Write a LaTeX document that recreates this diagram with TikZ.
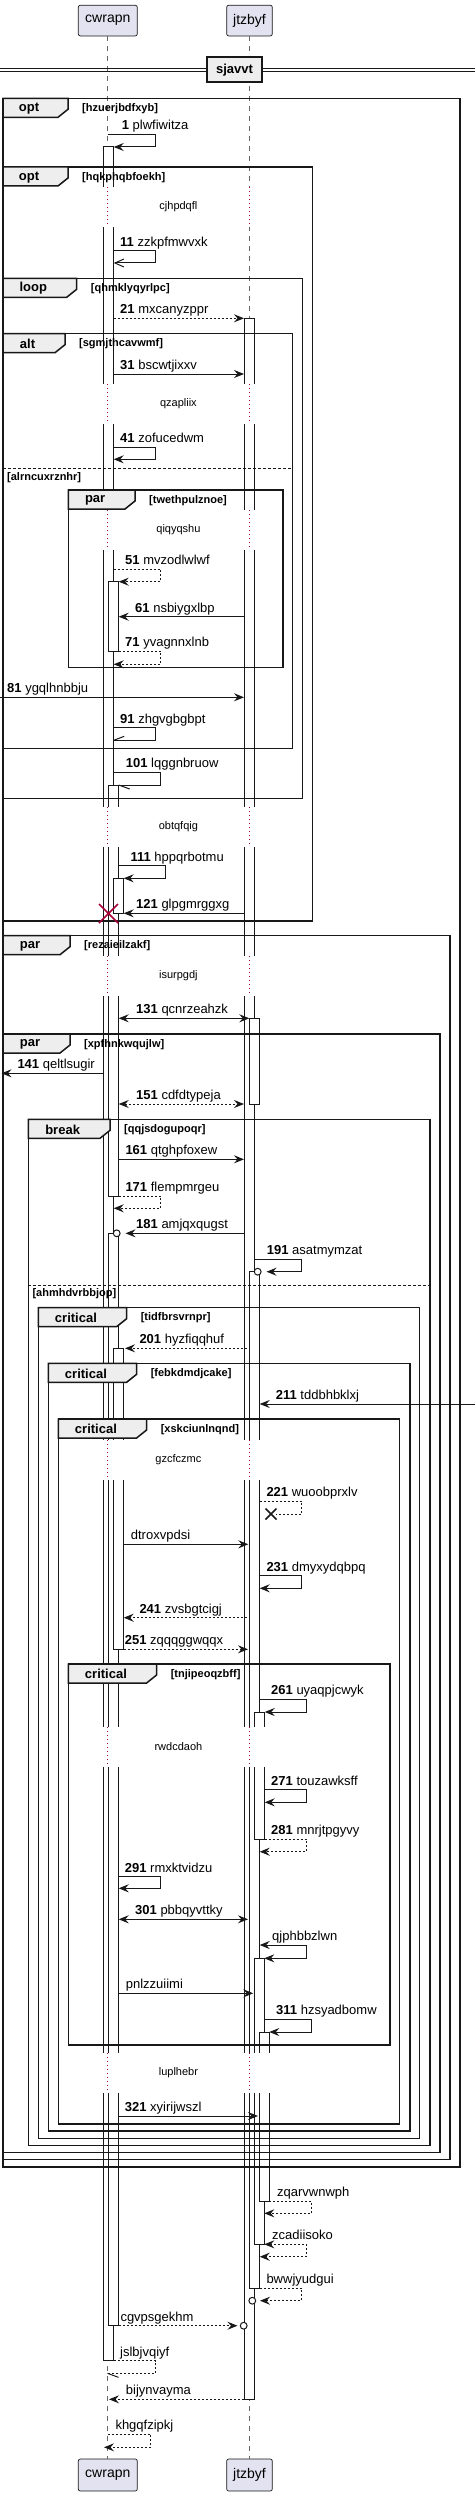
\documentclass[tikz,border=0pt]{standalone}
\usepackage{fontspec}
\setmainfont{Liberation Sans}
\usetikzlibrary{arrows.meta}
\definecolor{tabgray}{HTML}{EEEEEE}
\definecolor{partfill}{HTML}{E2E2F0}
\definecolor{crim}{HTML}{A80036}
\definecolor{lifegray}{HTML}{666666}
\definecolor{ink}{HTML}{181818}
\tikzset{
  lbl/.style={anchor=base west, inner sep=0pt, font=\fontsize{13}{15}\selectfont},
  arrf/.style={-{Stealth[length=10pt,width=8pt,inset=3.5pt]}},
  arrb/.style={{Stealth[length=10pt,width=8pt,inset=3.5pt]}-{Stealth[length=10pt,width=8pt,inset=3.5pt]}},
  arro/.style={-{Straight Barb[length=9pt,width=8pt]}},
  msgl/.style={line width=1pt, ink},
  dsh/.style={dash pattern=on 2pt off 2pt},
  actst/.style={draw=ink, fill=white, line width=1pt},
  lifeline/.style={lifegray, line width=1pt, dash pattern=on 5pt off 5pt},
  dlyline/.style={crim, line width=1pt, dash pattern=on 1pt off 3pt},
  dlytxt/.style={inner sep=0pt, font=\fontsize{11}{13}\selectfont},
  frl/.style={line width=1.5pt, ink},
  kindl/.style={inner sep=0pt, font=\bfseries\fontsize{13}{15}\selectfont},
  guardl/.style={anchor=west, inner sep=0pt, font=\bfseries\fontsize{11}{13}\selectfont},
  part/.style={draw=ink, fill=partfill, line width=0.7pt, rounded corners=2pt, inner sep=0pt, font=\fontsize{14}{16}\selectfont},
  sepbox/.style={draw=ink, fill=tabgray, line width=2pt, inner sep=0pt, minimum width=55pt, minimum height=25pt, font=\bfseries\fontsize{13}{15}\selectfont},
  circ/.style={draw=ink, fill=white, line width=1pt},
}
\newcommand{\smsg}[7]{%
  \coordinate (#1-a) at (#2,#4);
  \coordinate (#1-b) at (#3,#4);
  \draw[#5] (#1-a) -- (#1-b);
  \node[lbl] (#1-l) at (#6,#4-4.5) {#7};
}
\newcommand{\selfmsg}[9]{%
  \coordinate (#1-a) at (#2,#3);
  \coordinate (#1-b) at (#4,#3);
  \coordinate (#1-c) at (#4,#5);
  \coordinate (#1-d) at (#6,#5);
  \draw[#7] (#1-a) -- (#1-b) -- (#1-c) -- (#1-d);
  \node[lbl] (#1-l) at (#8,#3-4.5) {#9};
}
\newcommand{\frm}[8]{%
  \draw[frl] (#2,#3) rectangle (#4,#5);
  \draw[frl,fill=tabgray] (#2,#3) -- ++(#6,0) -- ++(0,11) -- ++(-10,8) -- (#2,#3+19) -- cycle;
  \node[kindl] (#1-k) at ({#2+(#6-13)/2},#3+10.3) {#7};
  \node[guardl] (#1-g) at (#2+#6+14,#3+10.3) {#8};
}
\newcommand{\elsesep}[5]{%
  \draw[ink, line width=1pt, dash pattern=on 3pt off 2pt] (#2,#4) -- (#3,#4);
  \node[guardl] (#1) at (#2+4,#4+9) {#5};
}
\newcommand{\dly}[3]{%
  \fill[white] (99,#2-20) rectangle (276,#2+20);
  \draw[dlyline] (107.5,#2-20) -- (107.5,#2+20);
  \draw[dlyline] (249.3,#2-20) -- (249.3,#2+20);
  \node[dlytxt] (#1) at (178.4,#2) {#3};
}
\begin{document}
\begin{tikzpicture}[x=1pt,y=-1pt]
\useasboundingbox (0,0) rectangle (475,2496);
% participants
\node[part, minimum width=59pt, minimum height=30.7pt] (pc) at (107.8,20.6) {cwrapn};
\node[part, minimum width=45.6pt, minimum height=30.7pt] (pj) at (249.5,20.6) {jtzbyf};
\node[part, minimum width=59pt, minimum height=32pt] (pcb) at (107.8,2475) {cwrapn};
\node[part, minimum width=45.6pt, minimum height=32pt] (pjb) at (249.5,2475) {jtzbyf};
% lifelines
\coordinate (lc1) at (107.5,36.2);
\coordinate (lc2) at (107.5,2459);
\coordinate (lj1) at (249.3,36.2);
\coordinate (lj2) at (249.3,2459);
\draw[lifeline] (lc1) -- (lc2);
\draw[lifeline] (lj1) -- (lj2);
% activations
\draw[actst] (103,147) rectangle (113.7,2360.7);
\draw[actst] (108.3,581.7) rectangle (118.7,651.7);
\draw[actst] (108.3,785) rectangle (118.7,1196);
\draw[actst] (113.3,878.3) rectangle (123.7,913.3);
\draw[actst] (108.3,1233.3) rectangle (118.7,2325.7);
\draw[actst] (113.3,1348.3) rectangle (123.7,1649.3);
\draw[actst] (244.3,318.3) rectangle (254.7,2399.3);
\draw[actst] (249.3,1018.3) rectangle (259.3,1104);
\draw[actst] (249.7,1271.7) rectangle (259.7,2288.3);
\draw[actst] (254.7,1712) rectangle (264.7,1839);
\draw[actst] (254.3,1958.3) rectangle (264.3,2244.3);
\draw[actst] (259.3,2032) rectangle (269.3,2201);
% delays
\dly{d1}{207}{cjhpdqfl}
\dly{d2}{404}{qzapliix}
\dly{d3}{530}{qiqyqshu}
\dly{d4}{827}{obtqfqig}
\dly{d5}{976}{isurpgdj}
\dly{d6}{1460}{gzcfczmc}
\dly{d7}{1747}{rwdcdaoh}
\dly{d8}{2073}{luplhebr}
% separator
\draw[ink, line width=1pt] (0,68.3) -- (475,68.3);
\draw[ink, line width=1pt] (0,71.7) -- (475,71.7);
\node[sepbox] (sep) at (234.5,69.8) {sjavvt};
% frames
\frm{f1}{3}{98.3}{460}{2167}{65}{opt}{[hzuerjbdfxyb]}
\frm{f2}{3}{167}{312.3}{921}{65}{opt}{[hqkphqbfoekh]}
\frm{f3}{3}{278.3}{302.3}{798.3}{73.7}{loop}{[qhmklyqyrlpc]}
\frm{f4}{3}{333.7}{292.7}{748.3}{62}{alt}{[sgmjthcavwmf]}
\elsesep{e1}{3}{292.7}{468.3}{[alrncuxrznhr]}
\frm{f5}{68.3}{490}{283}{667.3}{66.7}{par}{[twethpulznoe]}
\frm{f6}{3}{935.7}{450}{2159.3}{67}{par}{[rezaieilzakf]}
\frm{f7}{3}{1034}{440}{2152.3}{67}{par}{[xpfhnkwqujlw]}
\frm{f8}{28.3}{1119.3}{430}{2145.3}{81.7}{break}{[qqjsdogupoqr]}
\elsesep{e2}{28.3}{430}{1285}{[ahmhdvrbbjop]}
\frm{f9}{38.3}{1307.7}{419.3}{2138.3}{88.3}{critical}{[tidfbrsvrnpr]}
\frm{f10}{48.3}{1363.3}{410}{2131}{88.3}{critical}{[febkdmdjcake]}
\frm{f11}{58.3}{1419}{399.3}{2124}{88.3}{critical}{[xskciunlnqnd]}
\frm{f12}{68.3}{1664}{390}{2045}{88.3}{critical}{[tnjipeoqzbff]}
% messages
\selfmsg{m1}{107.5}{134.3}{155.3}{147}{113.7}{msgl,arrf}{121.7}{\textbf{1} plwfiwitza}
\selfmsg{m11}{113.7}{251}{155.3}{263}{113.7}{msgl,arro}{120}{\textbf{11} zzkpfmwvxk}
\smsg{m21}{113.7}{244}{318.3}{msgl,dsh,arrf}{120}{\textbf{21} mxcanyzppr}
\smsg{m31}{113.7}{244}{374}{msgl,arrf}{120}{\textbf{31} bscwtjixxv}
\selfmsg{m41}{113.7}{447}{155.3}{459.3}{113.7}{msgl,arrf}{120}{\textbf{41} zofucedwm}
\selfmsg{m51}{113.7}{569}{160.7}{581.7}{118.7}{msgl,dsh,arrf}{125}{\textbf{51} mvzodlwlwf}
\smsg{m61}{244}{118.7}{616.7}{msgl,arrf}{135}{\textbf{61} nsbiygxlbp}
\selfmsg{m71}{118.7}{651}{160.7}{664.3}{113.7}{msgl,dsh,arrf}{125}{\textbf{71} yvagnnxlnb}
\smsg{m81}{0}{244}{697.3}{msgl,arrf}{7}{\textbf{81} ygqlhnbbju}
\selfmsg{m91}{113.7}{727.7}{155.3}{740.3}{113.7}{msgl}{120}{\textbf{91} zhgvgbgbpt}
\draw[msgl] (m91-d) -- ++(10.5,-4);
\selfmsg{m101}{113.7}{772.3}{160.3}{785}{118.7}{msgl}{125.7}{\textbf{101} lqggnbruow}
\draw[msgl] (m101-d) -- ++(11,4);
\selfmsg{m111}{118.7}{865.7}{165.7}{878.3}{123.7}{msgl,arrf}{130.3}{\textbf{111} hppqrbotmu}
\smsg{m121}{244}{123.7}{913.3}{msgl,arrf}{136}{\textbf{121} glpgmrggxg}
\draw[crim, line width=1.5pt] (99,904) -- (118,923) (99,923) -- (118,904);
\smsg{m131}{118.7}{249.3}{1018.3}{msgl,arrb}{136}{\textbf{131} qcnrzeahzk}
\smsg{m141}{103}{1.5}{1073.3}{msgl,arrf}{17.3}{\textbf{141} qeltlsugir}
\smsg{m151}{118.7}{244}{1104}{msgl,dsh,arrb}{136}{\textbf{151} cdfdtypeja}
\smsg{m161}{118.7}{244}{1159.3}{msgl,arrf}{125.3}{\textbf{161} qtghpfoxew}
\selfmsg{m171}{118.7}{1196}{160.7}{1208.3}{113.7}{msgl,dsh,arrf}{125.3}{\textbf{171} flempmrgeu}
\smsg{m181}{244}{125.5}{1233.3}{msgl,arrf}{136}{\textbf{181} amjqxqugst}
\draw[circ] (116.7,1233.3) circle[radius=3.4pt];
\selfmsg{m191}{254.7}{1259}{301.7}{1271.7}{266.5}{msgl,arrf}{266.7}{\textbf{191} asatmymzat}
\draw[circ] (257.7,1271.7) circle[radius=3.4pt];
\smsg{m201}{246.7}{125}{1348.3}{msgl,dsh,arrf}{139.3}{\textbf{201} hyzfiqqhuf}
\smsg{m211}{475}{259.7}{1404}{msgl,arrf}{275.7}{\textbf{211} tddbhbklxj}
\selfmsg{m221}{259.7}{1501}{301.7}{1514}{276}{msgl,dsh}{266.3}{\textbf{221} wuoobprxlv}
\draw[ink, line width=1.5pt] (265.5,1508.5) -- (276.5,1519.5) (265.5,1519.5) -- (276.5,1508.5);
\smsg{m222}{123.7}{248.3}{1544.3}{msgl,arrf}{130.7}{dtroxvpdsi}
\selfmsg{m231}{259.7}{1575.7}{301.7}{1588.3}{259.7}{msgl,arrf}{266.3}{\textbf{231} dmyxydqbpq}
\smsg{m241}{246.7}{123.7}{1617.7}{msgl,dsh,arrf}{139.3}{\textbf{241} zvsbgtcigj}
\smsg{m251}{123.7}{248}{1649.3}{msgl,dsh,arrf}{124.7}{\textbf{251} zqqqggwqqx}
\selfmsg{m261}{259.7}{1699.3}{306.3}{1712}{264.7}{msgl,arrf}{271}{\textbf{261} uyaqpjcwyk}
\selfmsg{m271}{264.7}{1789.7}{306.3}{1802.3}{264.7}{msgl,arrf}{271}{\textbf{271} touzawksff}
\selfmsg{m281}{264.7}{1839}{306.3}{1851.7}{259.7}{msgl,dsh,arrf}{271}{\textbf{281} mnrjtpgyvy}
\selfmsg{m291}{118.7}{1876.7}{160.3}{1888.3}{118.7}{msgl,arrf}{124.7}{\textbf{291} rmxktvidzu}
\smsg{m301}{118.7}{248}{1919.3}{msgl,arrb}{135}{\textbf{301} pbbqyvttky}
\selfmsg{m302}{259.7}{1945}{306.3}{1958.3}{264.3}{msgl,arrb}{272}{qjphbbzlwn}
\smsg{m303}{118.7}{253.3}{1993.3}{msgl,arrf}{125.7}{pnlzzuiimi}
\selfmsg{m311}{264.3}{2019.3}{311.3}{2032}{269.3}{msgl,arrf}{276}{\textbf{311} hzsyadbomw}
\smsg{m321}{118.7}{258}{2116}{msgl,arrf}{124.7}{\textbf{321} xyirijwszl}
\selfmsg{m322}{269.3}{2201}{311.3}{2213.3}{264.3}{msgl,dsh,arrf}{277}{zqarvwnwph}
\selfmsg{m323}{264.3}{2244.3}{306.3}{2256.7}{259.7}{msgl,dsh,arrb}{272}{zcadiisoko}
\selfmsg{m324}{259.7}{2288.3}{301.7}{2300.7}{260}{msgl,dsh,arrf}{266.3}{bwwjyudgui}
\draw[circ] (252.3,2300.7) circle[radius=3.4pt];
\smsg{m325}{118.7}{237.5}{2325.7}{msgl,dsh,arrf}{120.3}{cgvpsgekhm}
\draw[circ] (243.7,2325.7) circle[radius=3.4pt];
\selfmsg{m326}{113.7}{2360.7}{155.3}{2373.3}{107.5}{msgl,dsh}{120}{jslbjvqiyf}
\draw[msgl] (m326-d) -- ++(11,4);
\smsg{m327}{244}{109}{2399.3}{msgl,dsh,arrf}{125.7}{bijynvayma}
\selfmsg{m328}{107.5}{2434.3}{150.7}{2447.3}{104}{msgl,dsh,arrf}{115.3}{khgqfzipkj}
\end{tikzpicture}
\end{document}
